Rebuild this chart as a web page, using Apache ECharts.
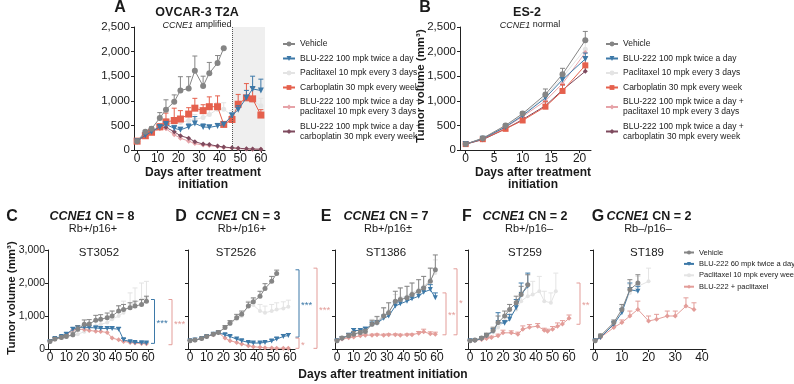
<!DOCTYPE html>
<html><head><meta charset="utf-8">
<script src="https://cdn.jsdelivr.net/npm/echarts@6/dist/echarts.min.js"></script>
<style>html,body{margin:0;padding:0;background:#fff}#c{width:794px;height:384px}</style>
</head><body><div id="c"></div>
<script>
// ---------------- DATA ----------------
const topNames = ['Vehicle','BLU-222 100 mpk twice a day','Paclitaxel 10 mpk every 3 days','Carboplatin 30 mpk every week',
  'BLU-222 100 mpk twice a day +\npaclitaxel 10 mpk every 3 days','BLU-222 100 mpk twice a day +\ncarboplatin 30 mpk every week'];
const bottomNames = ['Vehicle','BLU-222 60 mpk twice a day','Paclitaxel 10 mpk every week','BLU-222 + paclitaxel'];

// Panel A (OVCAR-3 T2A)
const daysA = [0,4,7,11,14,18,21,25,28,32,35,39,42,46,49,53,56,60];
const aVehicle = [180,370,430,650,820,980,1210,1250,1610,1300,1560,1770,2070];
const aVehicleErr = [0,30,40,110,200,140,280,240,300,200,220,150,0];
const aBlu = [180,300,370,470,520,440,410,470,540,470,460,490,520,700,820,1060,1240,1210];
const aBluErr = [0,20,30,40,60,50,50,60,140,60,40,50,40,50,80,150,260,230];
const aPac = [180,320,390,480,560,520,560,600,620,660,720,830,830,700,950,1050,1000,900];
const aPacErr = [0,30,40,60,80,80,80,100,100,100,120,130,130,100,150,180,200,150];
const aCarbo = [180,290,360,470,570,600,630,730,850,800,880,880,520,620,930,1060,1040,710];
const aCarboErr = [0,30,30,60,180,250,170,130,200,120,200,220,0,70,200,290,230,110];
const aBluPac = [180,300,360,430,430,310,240,180,130,100,90,70,50,40,30,20,15,15];
const aBluCarbo = [180,330,380,470,460,370,290,240,170,120,110,80,60,45,35,25,20,15];

// Panel B (ES-2)
const daysB = [0,3,7,10,14,17,21];
const bVehicle = [120,240,500,740,1130,1540,2230];
const bVehicleErr = [10,20,30,40,110,120,180];
const bBlu = [120,230,470,700,1060,1430,1850];
const bBluErr = [10,15,30,40,80,90,120];
const bPac = [120,240,490,720,1090,1480,2050];
const bPacErr = [10,15,30,40,80,90,150];
const bCarbo = [120,220,430,600,880,1200,1720];
const bCarboErr = [10,20,40,40,110,130,170];
const bBluPac = [120,230,460,680,1000,1350,1980];
const bBluCarbo = [120,210,430,620,900,1220,1600];
const bBluCarboErr = [10,15,30,40,80,100,150];

// PDX panels C-F
const daysPdx = [0,3,7,10,14,17,21,24,28,31,35,38,42,45,49,52,56,59];
const cVehicle = [230,300,350,380,430,600,750,760,870,900,950,1000,1150,1200,1250,1300,1350,1450];
const cVehicleErr = [30,50,50,60,80,100,130,130,150,140,140,150,160,150,150,150,150,150];
const cBlu = [230,320,380,450,600,650,660,650,640,620,620,620,600,280,220,200,190,180];
const cBluErr = [20,30,30,40,50,50,50,50,50,50,50,50,50,40,30,30,30,30];
const cPac = [230,280,330,370,400,450,520,620,700,750,800,900,1000,1100,1300,1400,1500,1550];
const cPacErr = [20,30,40,50,60,80,100,120,150,150,200,250,300,350,400,450,500,500];
const cBluPac = [230,300,350,420,580,600,590,560,540,530,500,330,280,230,200,180,170,160];

const dVehicle = [250,270,320,380,450,500,650,780,950,1050,1300,1430,1600,1830,2050,2290];
const dVehicleErr = [20,20,30,40,40,50,60,80,100,100,120,120,150,150,150,100];
const dPac = [250,270,320,380,450,500,640,760,900,1000,1300,1330,1150,1100,1150,1200,1230,1280];
const dPacErr = [20,20,30,40,40,50,60,80,100,100,150,200,200,200,200,200,200,200];
const dBlu = [250,270,320,380,450,490,430,380,300,250,200,180,180,200,240,300,380,410];
const dBluErr = [20,20,30,30,30,40,40,40,30,30,30,30,30,30,40,50,60,60];
const dBluPac = [250,270,320,380,430,500,330,250,200,150,100,70,50,40,30,25,20,20];

const eVehicle = [250,330,400,450,500,530,750,800,1000,1100,1450,1500,1550,1650,1750,1850,2050,2400];
const eVehicleErr = [30,50,60,80,60,70,120,180,250,300,300,350,350,350,350,350,400,450];
const eBlu = [250,320,420,560,560,600,740,780,930,1000,1300,1370,1450,1520,1600,1720,1800,1550];
const eBluErr = [30,40,50,60,50,60,80,80,100,100,120,120,120,120,150,150,150,150];
const ePac = [250,320,400,470,520,560,780,850,1030,1150,1400,1550,1600,1700,1800,1900,2100,2300];
const ePacErr = [30,50,60,80,80,80,120,150,200,250,250,300,300,300,300,300,350,400];
const eBluPac = [250,300,340,360,400,420,420,430,420,430,430,420,430,430,480,520,460,450];
const eBluPacErr = [20,20,30,30,30,30,30,30,30,30,30,30,30,30,50,80,60,60];

const fVehicle = [250,270,330,420,560,800,1000,1200,1400,1650,1950];
const fVehicleErr = [20,20,40,60,100,200,150,150,200,250,300];
const fBlu = [250,260,310,400,540,800,780,900,1250,1650,1900];
const fBluErr = [20,20,30,50,80,300,80,150,250,350,400];
const fPac = [250,270,320,400,500,650,850,1000,1200,1450,1600,1650,1750,1450,1400,1750];
const fPacErr = [20,30,40,60,80,100,150,200,250,300,350,400,450,300,300,550];
const daysFComb = [0,3,7,10,13,17,20,25,29,32,36,41,45,47,50,53,56,60];
const fBluPac = [250,260,290,320,350,400,490,490,450,600,660,690,570,540,600,690,760,930];
const fBluPacErr = [20,20,20,30,40,50,80,60,60,100,80,80,60,60,80,100,100,100];

// Panel G (ST189)
const daysG = [0,2,7,10,13,16,20];
const gVehicle = [250,400,800,1200,1800,2000];
const gVehicleErr = [30,50,80,150,300,250];
const gBlu = [250,350,750,1100,1800,1750];
const gBluErr = [30,50,80,120,200,150];
const gPac = [250,380,780,1150,1700,1900,2050];
const gPacErr = [30,50,80,150,250,300,400];
const daysGComb = [0,2,7,10,13,16,20,23,27,30,34,37];
const gBluPac = [250,350,650,800,1000,1200,850,900,1000,1000,1300,1200];
const gBluPacErr = [20,30,60,80,150,250,150,150,150,150,250,200];

// significance annotations (value spans)
const sig = [
  {g:2, dx:1.5, y1:1500, y2:170, c:'blu', t:'***'},
  {g:2, dx:19, y1:1500, y2:130, c:'bp2', t:'***'},
  {g:3, dx:4, y1:2400, y2:360, c:'blu', t:'***'},
  {g:3, dx:4, y1:330, y2:20, c:'bp2', t:'*'},
  {g:3, dx:22, y1:2450, y2:20, c:'bp2', t:'***'},
  {g:4, dx:4, y1:1700, y2:430, c:'bp2', t:'**'},
  {g:4, dx:15, y1:2430, y2:430, c:'bp2', t:'*'},
  {g:5, dx:6, y1:2000, y2:750, c:'bp2', t:'**'}
];

// ---------------- STYLE / LAYOUT ----------------
const FONT = '"Liberation Sans", Arial, Helvetica, sans-serif';
const TXT = '#1a1a1a';
const COL = {veh:'#858585', blu:'#3d79a8', pac:'#e4e4e4', carbo:'#e5604d', bp:'#e6a3a8', bc:'#7e4a5e', bp2:'#e39d99'};
const grids = [
  {left:134, top:27, width:131, height:123},
  {left:460, top:27, width:131, height:123},
  {left:48, top:250, width:105, height:99},
  {left:188, top:250, width:107, height:99},
  {left:335, top:250, width:107, height:99},
  {left:468, top:250, width:106, height:99},
  {left:593, top:250, width:113, height:99}
];
const xr = [[-1.5,62],[-1,22],[-1.2,63],[-1.2,63],[-1.2,63],[-1.2,63],[-0.8,41.5]];
const xt = [[0,10,20,30,40,50,60],[0,5,10,15,20],[0,10,20,30,40,50,60],[0,10,20,30,40,50,60],[0,10,20,30,40,50,60],[0,10,20,30,40,50,60],[0,10,20,30,40]];
const axisLineStyle = {color:'#222', width:1};

const xAxes = grids.map((g,i)=>({
  gridIndex:i, type:'value', min:xr[i][0], max:xr[i][1],
  axisLine:{show:true, onZero:false, lineStyle:axisLineStyle},
  axisTick:{show:true, length:3, customValues:xt[i], lineStyle:axisLineStyle},
  axisLabel:{show:true, customValues:xt[i], fontSize:12, color:TXT, fontFamily:FONT, margin:3},
  splitLine:{show:false}
}));
const yAxes = grids.map((g,i)=>({
  gridIndex:i, type:'value', min:0, max:i<2?2500:3000, interval:i<2?500:1000,
  axisLine:{show:true, onZero:false, lineStyle:axisLineStyle},
  axisTick:{show:true, length:3, lineStyle:axisLineStyle},
  axisLabel:{show:(i<=2), fontSize:i<2?11.5:10.5, color:TXT, fontFamily:FONT, margin:i<2?4:3,
    formatter:v=>v.toLocaleString('en-US')},
  splitLine:{show:false}
}));

function errRenderer(color){
  return function(params, api){
    const x=api.value(0), y=api.value(1), e=api.value(2);
    if(!(e>0)) return {type:'group', children:[]};
    const p0=api.coord([x,y]), p1=api.coord([x,y+e]);
    return {type:'group', children:[
      {type:'line', shape:{x1:p0[0],y1:p0[1],x2:p1[0],y2:p1[1]}, style:{stroke:color,lineWidth:1}},
      {type:'line', shape:{x1:p1[0]-2.5,y1:p1[1],x2:p1[0]+2.5,y2:p1[1]}, style:{stroke:color,lineWidth:1}}
    ]};
  };
}
const series = [];
function addLine(g, name, days, vals, errs, key, sym, size, z){
  const color = COL[key];
  const d = days.slice(0, vals.length);
  series.push({type:'line', name, xAxisIndex:g, yAxisIndex:g,
    data:d.map((x,i)=>[x, vals[i]]), symbol:sym, symbolSize:size,
    symbolRotate: sym==='triangle'?180:0,
    lineStyle:{color, width:1}, itemStyle:{color}, z, emphasis:{disabled:true}, silent:true});
  if(errs){
    series.push({type:'custom', name:name+' (err)', xAxisIndex:g, yAxisIndex:g,
      data:d.map((x,i)=>[x, vals[i], errs[i]]), renderItem:errRenderer(color), z, silent:true, clip:false});
  }
}
// shading + dotted line panel A
series.push({type:'line', name:'_shade', xAxisIndex:0, yAxisIndex:0, data:[], z:0, silent:true,
  markArea:{silent:true, itemStyle:{color:'#efefef'}, data:[[{xAxis:46, yAxis:0},{xAxis:62, yAxis:2500}]]},
  markLine:{silent:true, symbol:'none', label:{show:false}, lineStyle:{type:'dotted', color:'#555', width:1}, data:[{xAxis:46}]}});

// A
addLine(0, topNames[2], daysA, aPac, aPacErr, 'pac', 'circle', 5, 2);
addLine(0, topNames[4], daysA, aBluPac, null, 'bp', 'diamond', 5, 3);
addLine(0, topNames[5], daysA, aBluCarbo, null, 'bc', 'diamond', 5, 3);
addLine(0, topNames[3], daysA, aCarbo, aCarboErr, 'carbo', 'rect', 7, 4);
addLine(0, topNames[1], daysA, aBlu, aBluErr, 'blu', 'triangle', 6, 5);
addLine(0, topNames[0], daysA, aVehicle, aVehicleErr, 'veh', 'circle', 6, 6);
// B
addLine(1, topNames[2], daysB, bPac, bPacErr, 'pac', 'circle', 5, 2);
addLine(1, topNames[4], daysB, bBluPac, null, 'bp', 'diamond', 5, 3);
addLine(1, topNames[5], daysB, bBluCarbo, bBluCarboErr, 'bc', 'diamond', 5, 3);
addLine(1, topNames[3], daysB, bCarbo, bCarboErr, 'carbo', 'rect', 6, 4);
addLine(1, topNames[1], daysB, bBlu, bBluErr, 'blu', 'triangle', 6, 5);
addLine(1, topNames[0], daysB, bVehicle, bVehicleErr, 'veh', 'circle', 6, 6);
// C
addLine(2, bottomNames[2], daysPdx, cPac, cPacErr, 'pac', 'circle', 4, 2);
addLine(2, bottomNames[3], daysPdx, cBluPac, null, 'bp2', 'diamond', 5, 3);
addLine(2, bottomNames[1], daysPdx, cBlu, cBluErr, 'blu', 'triangle', 5, 4);
addLine(2, bottomNames[0], daysPdx, cVehicle, cVehicleErr, 'veh', 'circle', 5, 5);
// D
addLine(3, bottomNames[2], daysPdx, dPac, dPacErr, 'pac', 'circle', 4, 2);
addLine(3, bottomNames[3], daysPdx, dBluPac, null, 'bp2', 'diamond', 5, 3);
addLine(3, bottomNames[1], daysPdx, dBlu, dBluErr, 'blu', 'triangle', 5, 4);
addLine(3, bottomNames[0], daysPdx, dVehicle, dVehicleErr, 'veh', 'circle', 5, 5);
// E
addLine(4, bottomNames[2], daysPdx, ePac, ePacErr, 'pac', 'circle', 4, 2);
addLine(4, bottomNames[3], daysPdx, eBluPac, eBluPacErr, 'bp2', 'diamond', 5, 3);
addLine(4, bottomNames[1], daysPdx, eBlu, eBluErr, 'blu', 'triangle', 5, 4);
addLine(4, bottomNames[0], daysPdx, eVehicle, eVehicleErr, 'veh', 'circle', 5, 5);
// F
addLine(5, bottomNames[2], daysPdx, fPac, fPacErr, 'pac', 'circle', 4, 2);
addLine(5, bottomNames[3], daysFComb, fBluPac, fBluPacErr, 'bp2', 'diamond', 5, 3);
addLine(5, bottomNames[1], daysPdx, fBlu, fBluErr, 'blu', 'triangle', 5, 4);
addLine(5, bottomNames[0], daysPdx, fVehicle, fVehicleErr, 'veh', 'circle', 5, 5);
// G
addLine(6, bottomNames[2], daysG, gPac, gPacErr, 'pac', 'circle', 4, 2);
addLine(6, bottomNames[3], daysGComb, gBluPac, gBluPacErr, 'bp2', 'diamond', 5, 3);
addLine(6, bottomNames[1], daysG, gBlu, gBluErr, 'blu', 'triangle', 5, 4);
addLine(6, bottomNames[0], daysG, gVehicle, gVehicleErr, 'veh', 'circle', 5, 5);

const legTop = (left)=>({data:topNames, left, top:39, orient:'vertical', itemWidth:12, itemHeight:6, itemGap:4.5,
  padding:0, selectedMode:false, textStyle:{fontSize:8.5, lineHeight:10, color:TXT, fontFamily:FONT}, itemTextGap:5});
const option = {
  animation:false,
  textStyle:{fontFamily:FONT},
  grid: grids.map(g=>Object.assign({containLabel:false}, g)),
  xAxis:xAxes, yAxis:yAxes,
  legend:[legTop(282), legTop(605),
    {data:bottomNames, left:683, top:248, orient:'vertical', itemWidth:10, itemHeight:5, itemGap:2.4, padding:0,
     selectedMode:false, itemTextGap:4, textStyle:{fontSize:7.5, lineHeight:9, color:TXT, fontFamily:FONT}}],
  series
};
const chart = echarts.init(document.getElementById('c'), null, {renderer:'canvas', width:794, height:384});
chart.setOption(option);

// ---------------- TEXT & ANNOTATIONS ----------------
function T(text, x, y, o){
  o = o || {};
  const fs = o.size || 11, fw = o.bold ? 'bold' : 'normal';
  const rich = {i:{fontStyle:'italic', fontWeight:fw, fontSize:o.isize||fs, fontFamily:FONT, fill:o.color||TXT}};
  return {type:'text', x, y, rotation:o.rot||0, silent:true, z:100,
    style:{text, fontSize:fs, fontWeight:fw, fontFamily:FONT, fill:o.color||TXT,
      textAlign:o.align||'center', align:o.align||'center', textVerticalAlign:'middle', verticalAlign:'middle', rich}};
}
const g = [];
// top
g.push(T('A', 120, 8, {size:16, bold:true}));
g.push(T('OVCAR-3 T2A', 197, 13, {size:12.5, bold:true}));
g.push(T('{i|CCNE1} amplified', 197, 25, {size:9}));
g.push(T('Days after treatment', 203, 173, {size:12, bold:true}));
g.push(T('initiation', 203, 185, {size:12, bold:true}));
g.push(T('B', 425, 8, {size:16, bold:true}));
g.push(T('ES-2', 527, 13, {size:12.5, bold:true}));
g.push(T('{i|CCNE1} normal', 530, 25, {size:9}));
g.push(T('Tumor volume (mm³)', 421, 86, {size:11.5, bold:true, rot:Math.PI/2}));
g.push(T('Days after treatment', 533, 173, {size:12, bold:true}));
g.push(T('initiation', 533, 185, {size:12, bold:true}));
// bottom
const pan = [
  ['C', 12, 92, '8', 'Rb+/p16+', 93, 'ST3052', 99],
  ['D', 181, 238, '3', 'Rb+/p16+', 242, 'ST2526', 236],
  ['E', 326, 386, '7', 'Rb+/p16±', 388, 'ST1386', 386],
  ['F', 467, 525, '2', 'Rb+/p16–', 529, 'ST259', 525],
  ['G', 598, 649, '2', 'Rb–/p16–', 648, 'ST189', 647]
];
pan.forEach(p=>{
  g.push(T(p[0], p[1], 217, {size:16, bold:true}));
  g.push(T('{i|CCNE1} CN = '+p[3], p[2], 217, {size:12.5, bold:true}));
  g.push(T(p[4], p[5], 229, {size:11}));
  g.push(T(p[6], p[7], 253, {size:11.5}));
});
g.push(T('Tumor volume (mm³)', 12, 298, {size:11.5, bold:true, rot:Math.PI/2}));
g.push(T('Days after treatment initiation', 383, 375, {size:12, bold:true}));
// significance brackets
sig.forEach(s=>{
  const gr = grids[s.g];
  const x = gr.left + gr.width + s.dx;
  const y1 = chart.convertToPixel({gridIndex:s.g}, [0, s.y1])[1];
  const y2 = chart.convertToPixel({gridIndex:s.g}, [0, s.y2])[1];
  const c = COL[s.c];
  g.push({type:'polyline', silent:true, z:100, shape:{points:[[x-3.5,y1],[x,y1],[x,y2],[x-3.5,y2]]},
    style:{stroke:c, fill:null, lineWidth:1}});
  g.push(T(s.t, x+2, (y1+y2)/2+2, {size:9.5, color:c, align:'left'}));
});
chart.setOption({graphic:{elements:g}});
</script></body></html>
